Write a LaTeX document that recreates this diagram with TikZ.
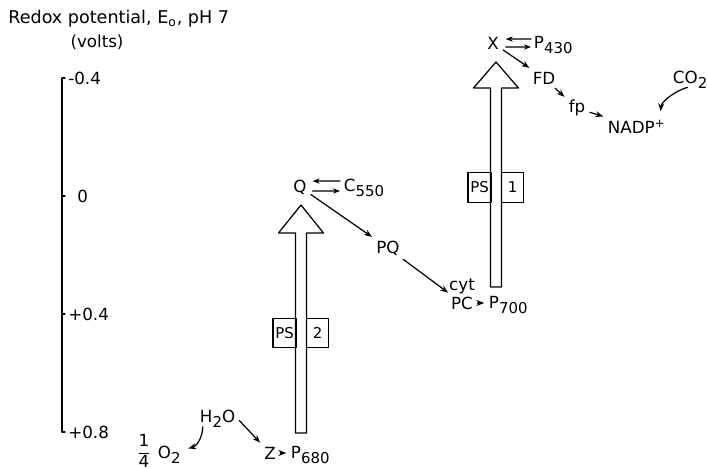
\documentclass[tikz,border=0pt]{standalone}
\usepackage{fontspec}
\setmainfont{DejaVu Sans}
\usetikzlibrary{arrows.meta}
\newcommand{\low}[1]{\raisebox{-2.8pt}{\fontsize{8.5}{9}\selectfont #1}}

\begin{document}
\begin{tikzpicture}[x=0.02cm,y=-0.02cm,line cap=round,line join=round,
  every node/.style={font=\fontsize{9.5}{11}\selectfont},
  lbl/.style={inner sep=1.5pt},
  arr/.style={line width=0.7pt,-{Stealth[length=4.5pt,width=3.4pt]},shorten >=1pt,shorten <=1pt},
  flat/.style={line width=0.7pt,-{Stealth[length=4pt,width=3pt]}},
  psbox/.style={draw,line width=0.7pt,minimum height=0.59cm,inner sep=0pt,font=\fontsize{8.5}{9}\selectfont}]
\useasboundingbox (0,0) rectangle (707,469);

% scale of redox potential
\node[anchor=base west,inner sep=0pt,font=\fontsize{10}{12}\selectfont] (title) at (8,24) {Redox potential, E\textsubscript{o}, pH 7};
\node[inner sep=0pt] (units) at (97,42) {(volts)};
\draw[line width=0.7pt] (65,78) -- (62,78) -- (62,432) -- (65,432) (62,196) -- ++(3,0) (62,314) -- ++(3,0);
\node[anchor=west,inner sep=0pt] (tickA) at (68,78) {-0.4};
\node[anchor=west,inner sep=0pt] (tickB) at (77,196) {0};
\node[anchor=west,inner sep=0pt] (tickC) at (68,314) {+0.4};
\node[anchor=west,inner sep=0pt] (tickD) at (68,432) {+0.8};

% photosystem 2
\draw[line width=0.7pt] (295.5,433) -- ++(0,-200) -- ++(-17,0) -- ++(22.5,-28) -- ++(22.5,28) -- ++(-17,0) -- ++(0,200) -- cycle;
\node[psbox,minimum width=0.46cm] (psA) at (284.5,333) {PS};
\node[psbox,minimum width=0.44cm] (psAnum) at (317.5,333) {2};

% photosystem 1
\draw[line width=0.7pt] (490.5,287) -- ++(0,-199) -- ++(-17,0) -- ++(22.5,-26) -- ++(22.5,26) -- ++(-17,0) -- ++(0,199) -- cycle;
\node[psbox,minimum width=0.46cm] (psB) at (479.5,187.5) {PS};
\node[psbox,minimum width=0.44cm] (psBnum) at (512.5,187.5) {1};

% carriers
\node[lbl] (q) at (300,187) {Q};
\node[lbl,anchor=base west] (c550) at (341,192) {C\low{550}};
\node[lbl] (pq) at (388,248) {PQ};
\node[lbl,anchor=base] (cyt) at (462,291) {cyt};
\node[lbl] (pc) at (462,303) {PC};
\node[lbl,anchor=base west] (p700) at (486,309) {P\low{700}};
\node[lbl] (x) at (493,43) {X};
\node[lbl,anchor=base west] (p430) at (531,49) {P\low{430}};
\node[lbl] (fd) at (544,78) {FD};
\node[lbl,anchor=base] (fp) at (577,113) {fp};
\node[lbl,anchor=base west] (nadp) at (605,134) {NADP\textsuperscript{+}};
\node[lbl,anchor=base west] (co2) at (670,84) {CO\low{2}};
\node[lbl,anchor=base west] (h2o) at (197,423) {H\low{2}O};
\node[lbl] (z) at (270,453) {Z};
\node[lbl,anchor=base west] (p680) at (288,459) {P\low{680}};
\node[lbl,inner sep=0pt] (quarter) at (144,451) {$\displaystyle\frac{\mbox{\fontsize{9.5}{10}\selectfont 1}}{\mbox{\fontsize{9.5}{10}\selectfont 4}}$};
\node[lbl,anchor=base west] (o2) at (155,459) {O\low{2}};

% electron flow
\draw[flat] ([shift={(-1,-11)}]c550.base west) -- ([shift={(3,-11)}]q.base east);
\draw[flat] ([shift={(3,-1)}]q.base east) -- ([shift={(-1,-1)}]c550.base west);
\draw[flat] ([shift={(0,-10)}]p430.base west) -- ([shift={(4,-10)}]x.base east);
\draw[flat] ([shift={(4,-2)}]x.base east) -- ([shift={(0,-2)}]p430.base west);
\draw[arr] (q) -- (pq);
\draw[arr] (pq) -- (pc);
\draw[arr] (pc.east) -- (pc.east -| p700.west);
\draw[arr] (x) -- (fd);
\draw[arr] (fd) -- (fp);
\draw[arr] (fp) -- (nadp.north west);
\draw[arr] ([shift={(-1,3)}]co2.base) .. controls +(-12,3) and +(1,-12) .. ([shift={(-8,-4)}]nadp.north east);
\draw[arr] (h2o.east) -- (z.north west);
\draw[arr] (z.east) -- (z.east -| p680.west);
\draw[arr] ([shift={(6,2)}]h2o.base west) .. controls +(-1,14) and +(10,-3) .. ([shift={(3,-10)}]o2.base east);
\end{tikzpicture}
\end{document}
